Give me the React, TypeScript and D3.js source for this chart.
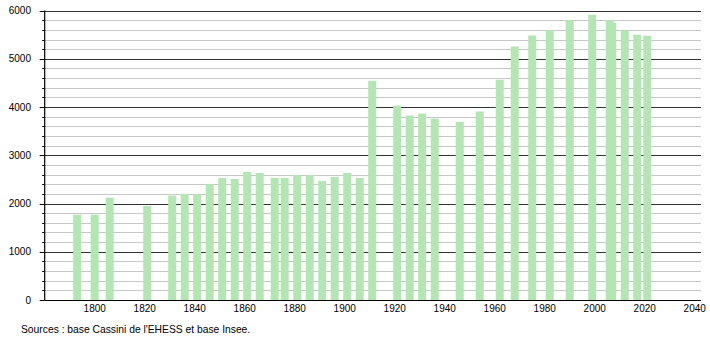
import React from "react";
import * as d3 from "d3";

const years = [1793, 1800, 1806, 1821, 1831, 1836, 1841, 1846, 1851, 1856, 1861, 1866, 1872, 1876, 1881, 1886, 1891, 1896, 1901, 1906, 1911, 1921, 1926, 1931, 1936, 1946, 1954, 1962, 1968, 1975, 1982, 1990, 1999, 2006, 2007, 2012, 2017, 2021];
const population = [1770, 1770, 2122, 1950, 2164, 2200, 2190, 2407, 2531, 2510, 2656, 2635, 2531, 2531, 2593, 2593, 2469, 2552, 2635, 2531, 4544, 4031, 3824, 3865, 3761, 3693, 3907, 4567, 5255, 5484, 5595, 5803, 5913, 5803, 5747, 5595, 5501, 5480];
const xTicks = [1800, 1820, 1840, 1860, 1880, 1900, 1920, 1940, 1960, 1980, 2000, 2020, 2040];
const yMajor = [0, 1000, 2000, 3000, 4000, 5000, 6000];
const sourceText = "Sources : base Cassini de l'EHESS et base Insee.";

export default function App() {
  const W = 710, H = 340;
  const x = d3.scaleLinear().domain([1780, 2042.5]).range([44.7, 701]);
  const y = d3.scaleLinear().domain([0, 6000]).range([300, 10.6]);
  const minor = d3.range(0, 6001, 200).filter((v) => v % 1000 !== 0);
  const barW = 8;
  const font = "'Liberation Sans', Arial, sans-serif";
  const x0 = x(1780), x1 = x(2042.5);
  return (
    <svg width={W} height={H} style={{ position: "absolute", left: 0, top: 0, background: "#fff" }} fontFamily={font}>
      <rect x={0} y={0} width={W} height={H} fill="#fff" />
      {minor.map((v) => (
        <g key={"m" + v}>
          <line x1={x0} x2={x1} y1={Math.round(y(v)) + 0.5} y2={Math.round(y(v)) + 0.5} stroke="#c8c8c8" strokeWidth={1} />
          <line x1={x0 - 2.5} x2={x0} y1={Math.round(y(v)) + 0.5} y2={Math.round(y(v)) + 0.5} stroke="#000" strokeWidth={1} />
        </g>
      ))}
      {yMajor.filter((v) => v > 0).map((v) => (
        <line key={"M" + v} x1={x0} x2={x1} y1={Math.round(y(v)) + 0.5} y2={Math.round(y(v)) + 0.5} stroke="#333" strokeWidth={1} />
      ))}
      {years.map((yr, i) => (
        <rect key={yr} x={x(yr) - barW / 2} y={y(population[i])} width={barW} height={y(0) - y(population[i])} fill="#b3e6b3" />
      ))}
      <line x1={x0} x2={x0} y1={y(6000)} y2={y(0)} stroke="#000" strokeWidth={1.2} />
      <line x1={x0} x2={x1} y1={300.5} y2={300.5} stroke="#000" strokeWidth={1.2} />
      {yMajor.map((v) => (
        <g key={"t" + v}>
          <line x1={x0 - 5} x2={x0} y1={Math.round(y(v)) + 0.5} y2={Math.round(y(v)) + 0.5} stroke="#000" strokeWidth={1} />
          <text x={31} y={y(v) + 3.5} fontSize={10} textAnchor="end" fill="#000">{v}</text>
        </g>
      ))}
      {xTicks.map((t) => (
        <text key={"x" + t} x={x(t)} y={312} fontSize={10} textAnchor="middle" fill="#000">{t}</text>
      ))}
      <text x={21} y={333} fontSize={10.3} fill="#000">{sourceText}</text>
    </svg>
  );
}
